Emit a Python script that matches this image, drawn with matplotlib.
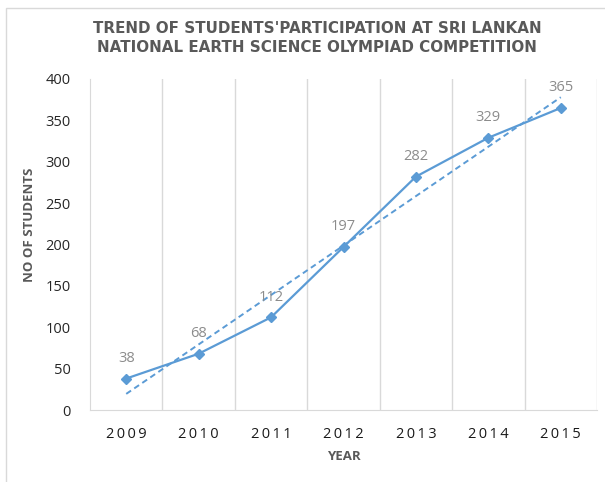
import matplotlib
matplotlib.use('Agg')
import matplotlib.pyplot as plt
import numpy as np

plt.rcParams['font.family'] = ['Open Sans', 'DejaVu Sans']

years = ['2009', '2010', '2011', '2012', '2013', '2014', '2015']
students = [38, 68, 112, 197, 282, 329, 365]

line_color = '#5B9BD5'
grid_color = '#D9D9D9'

fig = plt.figure(figsize=(6.05, 4.82), dpi=100)
ax = fig.add_axes([90 / 605, 1 - 410 / 482, (597 - 90) / 605, (410 - 79) / 482])

x = np.arange(1, len(years) + 1)
ax.plot(x, students, color=line_color, lw=1.6, marker='D', markersize=5.5, zorder=3)

# linear trendline
k, b = np.polyfit(x, students, 1)
ax.plot(x, k * x + b, color=line_color, lw=1.4, ls=(0, (3, 2)), zorder=2)

for xi, v in zip(x, students):
    ax.annotate(str(v), (xi, v), xytext=(0, 9), textcoords='offset points',
                ha='center', va='bottom', fontsize=10.5, color='#8C8C8C')

ax.set_xlim(0.5, 7.5)
ax.set_ylim(0, 400)
ax.set_xticks(x)
# wider letter spacing, like the original
ax.set_xticklabels(['\u2009'.join(y) for y in years], fontsize=10.5, color='#1A1A1A')
ax.set_yticks(range(0, 401, 50))
ax.tick_params(axis='y', labelsize=10.5, labelcolor='#262626', length=0, pad=14)
ax.tick_params(axis='x', length=0, pad=12)

# vertical grid between categories
for gx in np.arange(1.5, 8, 1):
    ax.axvline(gx, color=grid_color, lw=1, zorder=0)

for s in ['top', 'right']:
    ax.spines[s].set_visible(False)
for s in ['left', 'bottom']:
    ax.spines[s].set_color(grid_color)

ax.set_xlabel('YEAR', fontsize=9.5, fontweight='bold', color='#595959', labelpad=6)
ax.set_ylabel('NO OF STUDENTS', fontsize=9.5, fontweight='bold', color='#595959')
ax.yaxis.set_label_coords(-0.107, 0.56)

fig.text(317 / 605, 1 - 38 / 482,
         "TREND OF STUDENTS'PARTICIPATION AT SRI LANKAN\nNATIONAL EARTH SCIENCE OLYMPIAD COMPETITION",
         ha='center', va='center', fontsize=10.9, fontweight='bold', color='#595959',
         family='DejaVu Sans', linespacing=1.3)

# outer border (only left and top fall inside the image)
fig.patches.append(plt.Rectangle((6 / 605, -0.05), 1.0, 1 - 8 / 482 + 0.05,
                                 transform=fig.transFigure, fill=False,
                                 edgecolor=grid_color, lw=1))

plt.savefig('out.png', dpi=100)
